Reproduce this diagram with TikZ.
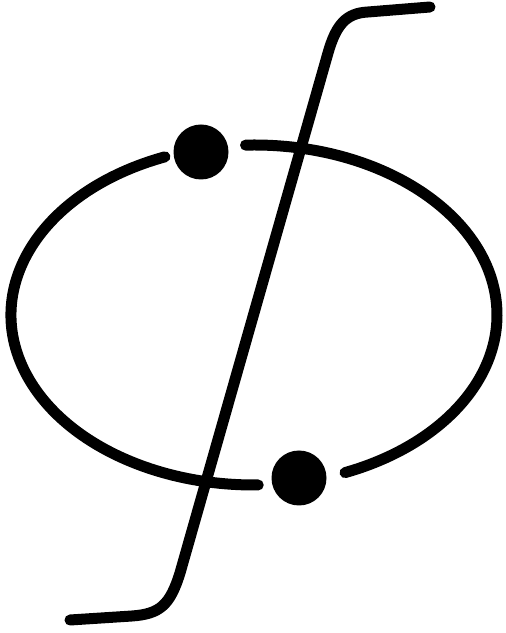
\documentclass[tikz,border=0pt]{standalone}
\usetikzlibrary{calc}

\begin{document}
\begin{tikzpicture}[x=1pt, y=1pt, line cap=round, line join=round]
        \useasboundingbox (0,0) rectangle (506,633);
        \tikzset{stroke/.style={line width=11pt}, bead/.style={circle, fill, inner sep=0pt, minimum size=55pt}}

        % ellipse centre
        \coordinate (C) at (254,318);

        % ellipse (two arcs, broken at the beads)
        \draw[stroke] ([shift={(92:243 and 170)}]C) arc[start angle=92, end angle=-68, x radius=243pt, y radius=170pt];
        \draw[stroke] ([shift={(111.5:243 and 170)}]C) arc[start angle=111.5, end angle=271, x radius=243pt, y radius=170pt];

        % beads in the gaps
        \node[bead] (B1) at (201,481) {};
        \node[bead] (B2) at (299,155) {};

        % crossing line
        \coordinate (T) at (430,626);
        \coordinate (U) at (328,580);
        \coordinate (L) at (180,60);
        \coordinate (E) at (70,13);
        \draw[stroke] (T) -- (368,621) .. controls (346,620) and (336,608) .. (U) -- (L)
            .. controls (170,28) and (160,19) .. (132,17) -- (E);
    \end{tikzpicture}
\end{document}
